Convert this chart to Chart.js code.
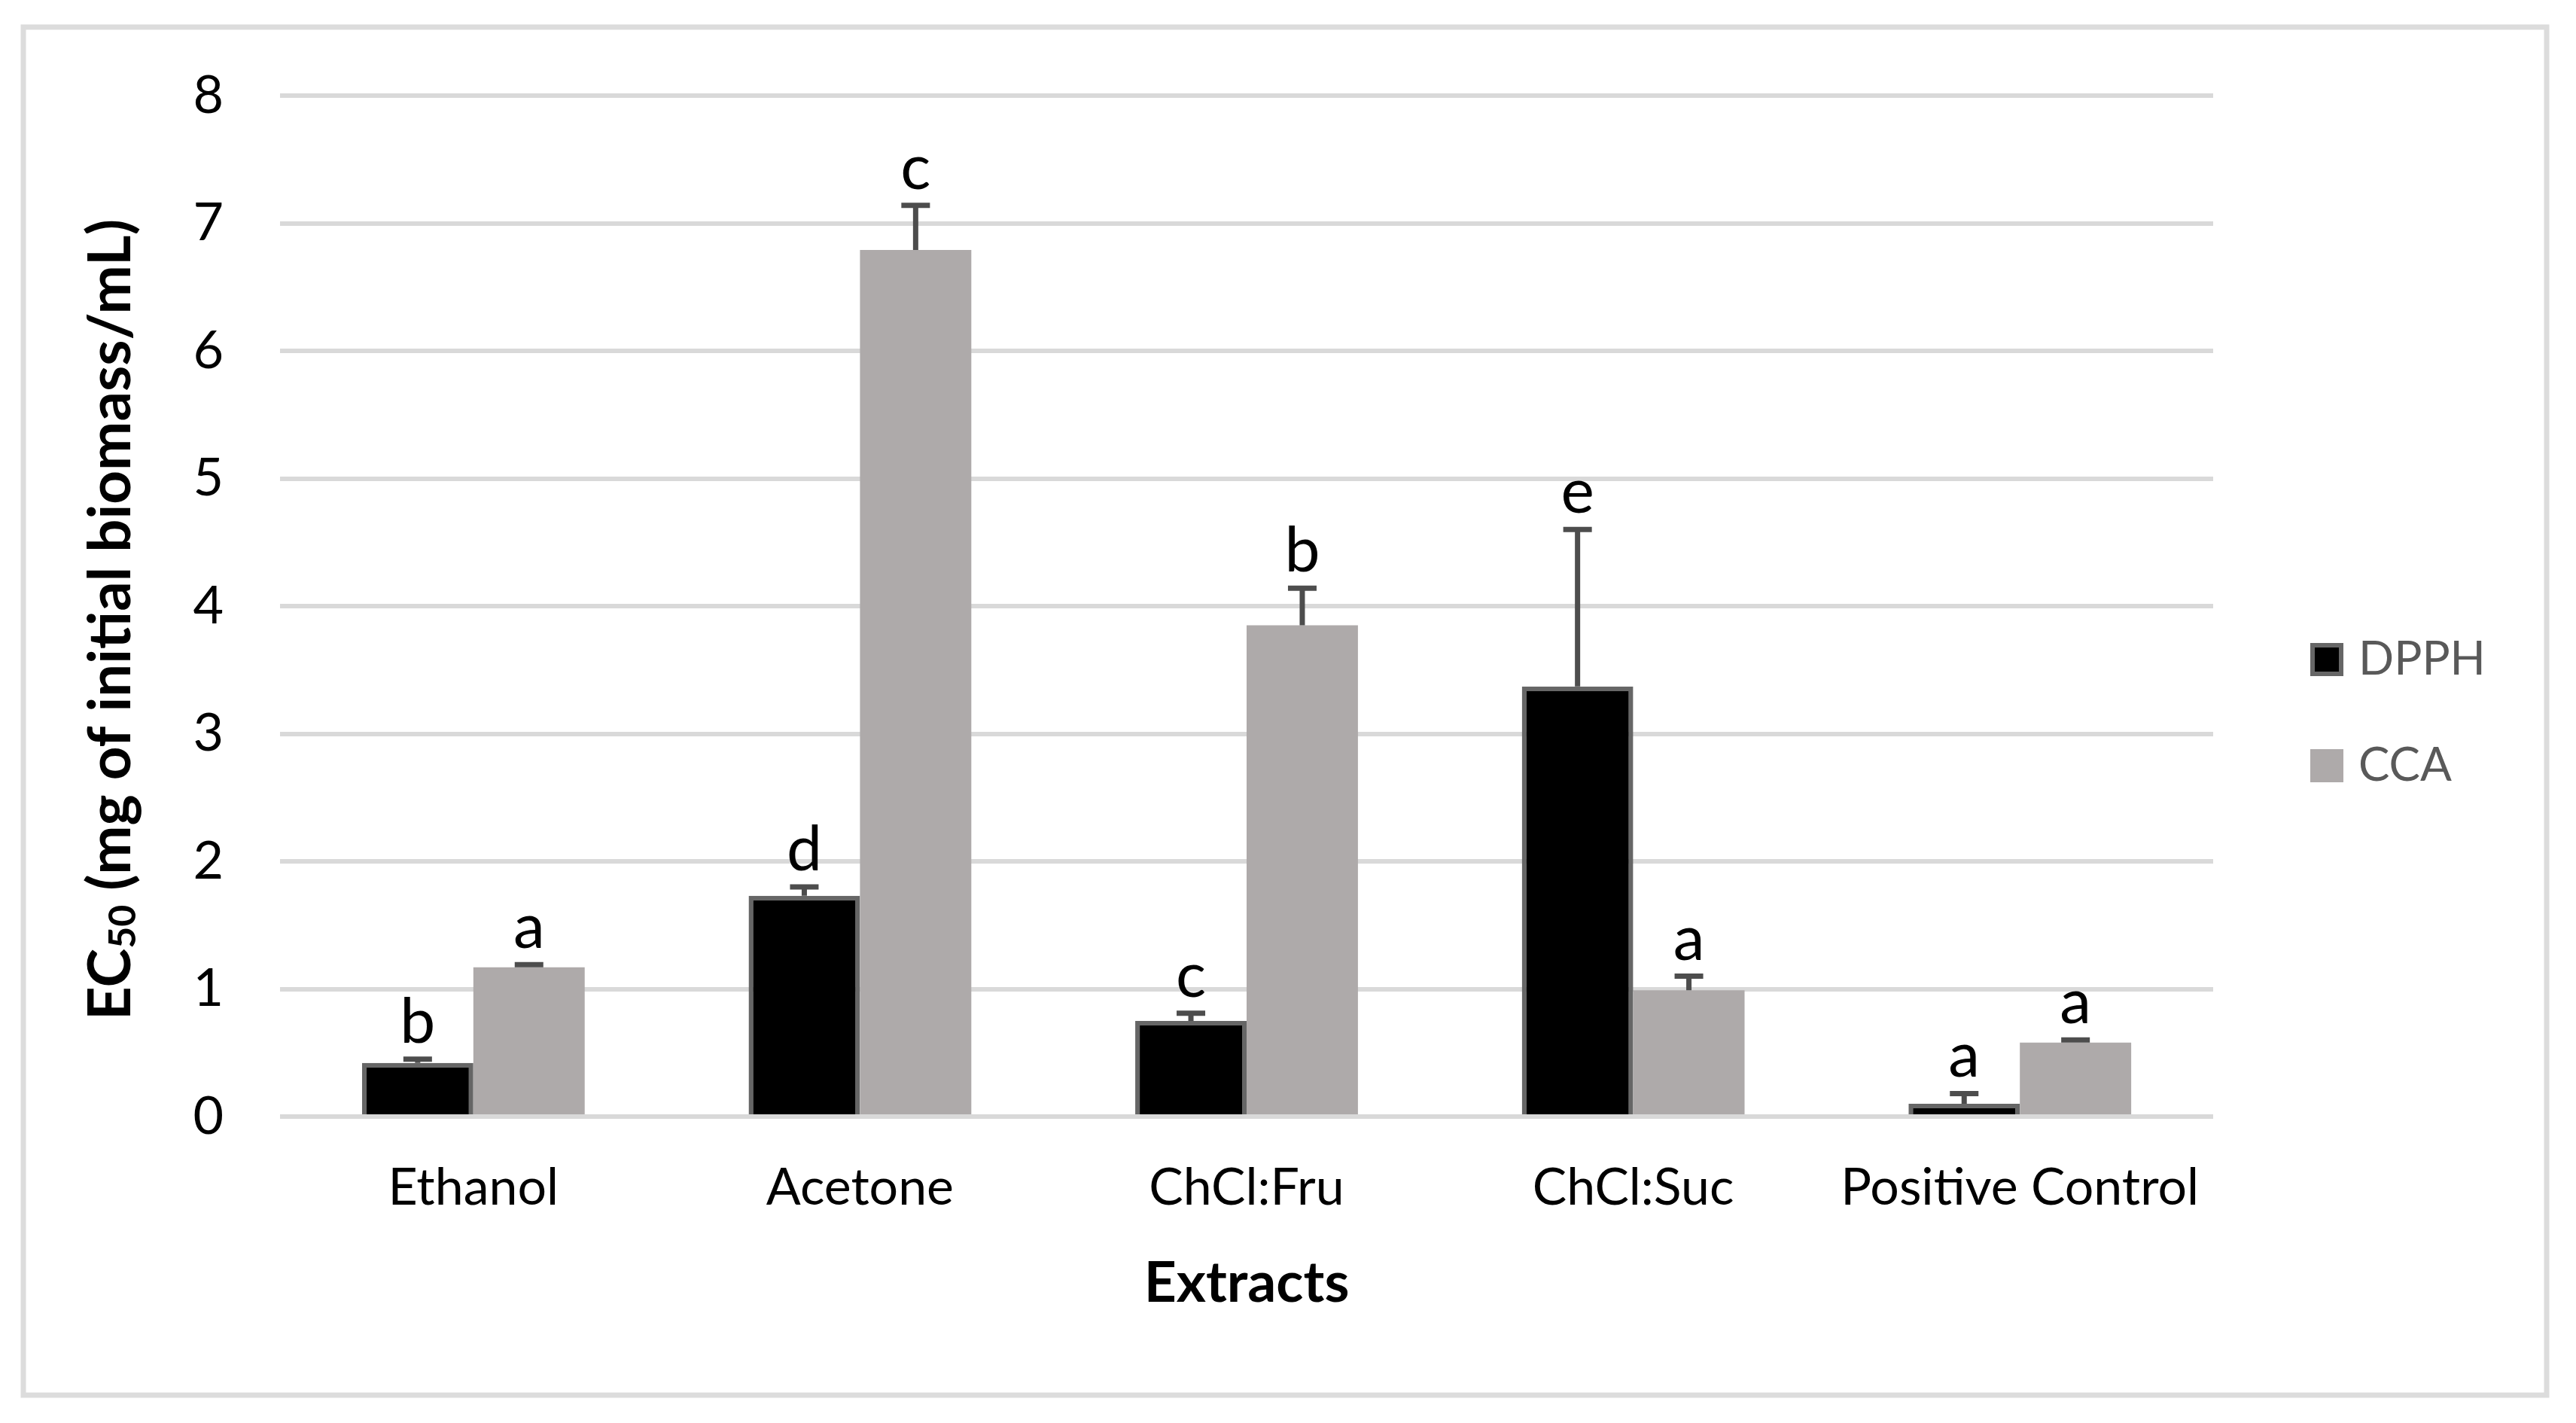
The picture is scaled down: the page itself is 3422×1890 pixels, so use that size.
<!DOCTYPE html>
<html>
<head>
<meta charset="utf-8">
<title>EC50 by extract</title>
<script src="https://cdn.jsdelivr.net/npm/chart.js@4.4.1/dist/chart.umd.min.js"></script>
<style>
	html, body { margin: 0; padding: 0; background: #fff; }
	canvas { display: block; }
</style>
</head>
<body>
<canvas id="ec50" width="3422" height="1890"></canvas>
<script>
const categories = ["Ethanol", "Acetone", "ChCl:Fru", "ChCl:Suc", "Positive Control"];
const dpph = [0.42, 1.73, 0.75, 3.37, 0.10];
const dpphErr = [0.03, 0.07, 0.06, 1.23, 0.08];
const dpphLetters = ["b", "d", "c", "e", "a"];
const cca = [1.17, 6.79, 3.85, 0.99, 0.58];
const ccaErr = [0.02, 0.35, 0.29, 0.11, 0.02];
const ccaLetters = ["a", "c", "b", "a", "a"];
const yTicks = [0, 1, 2, 3, 4, 5, 6, 7, 8];

const FONT = "Lato";

// outer frame round the whole figure
const framePlugin = {
	id: "frame",
	beforeDraw(chart) {
		const ctx = chart.ctx;
		ctx.save();
		ctx.fillStyle = "#ffffff";
		ctx.fillRect(0, 0, chart.width, chart.height);
		ctx.strokeStyle = "#dcdcdc";
		ctx.lineWidth = 7;
		ctx.strokeRect(31, 36, chart.width - 70, chart.height - 73);
		ctx.restore();
	},
};

// positive error bars + significance letters
const errorPlugin = {
	id: "errors",
	afterDatasetsDraw(chart) {
		const ctx = chart.ctx;
		const y = chart.scales.y;
		chart.data.datasets.forEach((ds, i) => {
			const meta = chart.getDatasetMeta(i);
			meta.data.forEach((bar, j) => {
				const top = y.getPixelForValue(ds.data[j] + ds.errors[j]);
				ctx.save();
				ctx.strokeStyle = "#4d4d4d";
				ctx.lineWidth = 7;
				ctx.beginPath();
				ctx.moveTo(bar.x, bar.y);
				ctx.lineTo(bar.x, top);
				ctx.moveTo(bar.x - 19, top);
				ctx.lineTo(bar.x + 19, top);
				ctx.stroke();
				ctx.fillStyle = "#000";
				ctx.font = "84px " + FONT;
				ctx.textAlign = "center";
				ctx.textBaseline = "alphabetic";
				ctx.fillText(ds.letters[j], bar.x, top - 22);
				ctx.restore();
			});
		});
	},
};

// y title with subscript, and the legend on the right
const labelsPlugin = {
	id: "labels",
	afterDraw(chart) {
		const ctx = chart.ctx;
		const area = chart.chartArea;

		ctx.save();
		ctx.translate(area.left - 224, (area.top + area.bottom) / 2 + 18);
		ctx.rotate(-Math.PI / 2);
		ctx.fillStyle = "#000";
		ctx.textBaseline = "middle";
		ctx.textAlign = "left";
		const big = "bold 78px " + FONT;
		const small = "bold 50px " + FONT;
		const parts = [["EC", big, 0], ["50", small, 16], [" (mg of initial biomass/mL)", big, 0]];
		let total = 0;
		parts.forEach((p) => {
			ctx.font = p[1];
			total += ctx.measureText(p[0]).width;
		});
		let x = -total / 2;
		parts.forEach((p) => {
			ctx.font = p[1];
			ctx.fillText(p[0], x, p[2]);
			x += ctx.measureText(p[0]).width;
		});
		ctx.restore();

		ctx.save();
		chart.data.datasets.forEach((ds, i) => {
			const bx = area.right + 129;
			const cy = area.top + 749 + i * 141;
			ctx.fillStyle = ds.backgroundColor;
			ctx.fillRect(bx, cy - 22, 44, 44);
			if (ds.borderWidth) {
				ctx.strokeStyle = ds.borderColor;
				ctx.lineWidth = 6;
				ctx.strokeRect(bx + 3, cy - 19, 38, 38);
			}
			ctx.fillStyle = "#595959";
			ctx.font = "62px " + FONT;
			ctx.textBaseline = "middle";
			ctx.textAlign = "left";
			ctx.fillText(ds.label, bx + 64, cy);
		});
		ctx.restore();
	},
};

const ctx = document.getElementById("ec50").getContext("2d");
const chart = new Chart(ctx, {
	type: "bar",
	data: {
		labels: categories,
		datasets: [
			{
				label: "DPPH",
				data: dpph,
				errors: dpphErr,
				letters: dpphLetters,
				backgroundColor: "#000000",
				borderColor: "#666666",
				borderWidth: 6,
			},
			{
				label: "CCA",
				data: cca,
				errors: ccaErr,
				letters: ccaLetters,
				backgroundColor: "#aeaaaa",
				borderWidth: 0,
			},
		],
	},
	options: {
		responsive: false,
		devicePixelRatio: 1,
		animation: false,
		layout: {
			padding: { left: 0, right: 482, top: 127, bottom: 0 },
		},
		datasets: {
			bar: { categoryPercentage: 0.576, barPercentage: 1.0 },
		},
		plugins: {
			legend: { display: false },
			tooltip: { enabled: false },
		},
		scales: {
			x: {
				grid: { display: false },
				border: { display: false },
				ticks: {
					color: "#000",
					font: { family: FONT, size: 68 },
					padding: 46,
				},
				title: {
					display: true,
					text: "Extracts",
					color: "#000",
					font: { family: FONT, size: 75, weight: "bold" },
					padding: { top: 0, bottom: 140 },
				},
				afterFit(scale) {
					scale.height = 407;
				},
			},
			y: {
				min: 0,
				max: 8,
				afterBuildTicks(scale) {
					scale.ticks = yTicks.map((v) => ({ value: v }));
				},
				grid: {
					color: "#d9d9d9",
					lineWidth: 6,
					drawTicks: false,
				},
				border: { display: false },
				ticks: {
					color: "#000",
					font: { family: FONT, size: 70 },
					padding: 75,
				},
				afterFit(scale) {
					scale.width = 372;
				},
			},
		},
	},
	plugins: [framePlugin, errorPlugin, labelsPlugin],
});
</script>
</body>
</html>
